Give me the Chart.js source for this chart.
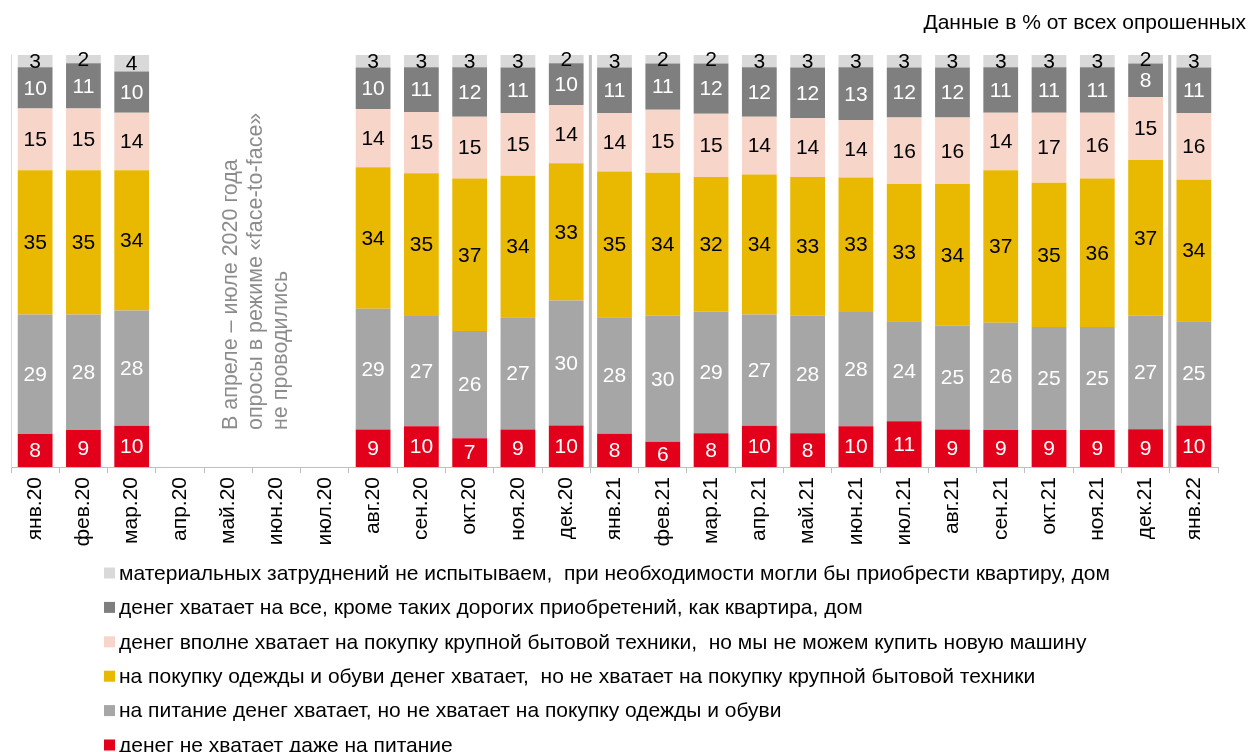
<!DOCTYPE html>
<html>
<head>
<meta charset="utf-8">
<script src="https://cdn.jsdelivr.net/npm/chart.js@4.4.1/dist/chart.umd.min.js"></script>
<style>
  html, body { margin: 0; padding: 0; background: #fff; }
  #wrap { width: 1251px; height: 752px; position: relative; }
</style>
</head>
<body>
<div id="wrap"><canvas id="c" width="1251" height="752"></canvas></div>
<script>
const categories = ['янв.20','фев.20','мар.20','апр.20','май.20','июн.20','июл.20','авг.20','сен.20','окт.20','ноя.20','дек.20',
  'янв.21','фев.21','мар.21','апр.21','май.21','июн.21','июл.21','авг.21','сен.21','окт.21','ноя.21','дек.21','янв.22'];
const N = null;
const noMoneyForFood   = [8, 9, 10, N, N, N, N, 9, 10, 7, 9, 10, 8, 6, 8, 10, 8, 10, 11, 9, 9, 9, 9, 9, 10];
const foodOnly         = [29, 28, 28, N, N, N, N, 29, 27, 26, 27, 30, 28, 30, 29, 27, 28, 28, 24, 25, 26, 25, 25, 27, 25];
const clothesOnly      = [35, 35, 34, N, N, N, N, 34, 35, 37, 34, 33, 35, 34, 32, 34, 33, 33, 33, 34, 37, 35, 36, 37, 34];
const appliancesOnly   = [15, 15, 14, N, N, N, N, 14, 15, 15, 15, 14, 14, 15, 15, 14, 14, 14, 16, 16, 14, 17, 16, 15, 16];
const allButHouse      = [10, 11, 10, N, N, N, N, 10, 11, 12, 11, 10, 11, 11, 12, 12, 12, 13, 12, 12, 11, 11, 11, 8, 11];
const noHardship       = [3, 2, 4, N, N, N, N, 3, 3, 3, 3, 2, 3, 2, 2, 3, 3, 3, 3, 3, 3, 3, 3, 2, 3];
const seriesLabels = [
  'денег не хватает даже на питание',
  'на питание денег хватает, но не хватает на покупку одежды и обуви',
  'на покупку одежды и обуви денег хватает,  но не хватает на покупку крупной бытовой техники',
  'денег вполне хватает на покупку крупной бытовой техники,  но мы не можем купить новую машину',
  'денег хватает на все, кроме таких дорогих приобретений, как квартира, дом',
  'материальных затруднений не испытываем,  при необходимости могли бы приобрести квартиру, дом'
];
const separatorsAfter = ['дек.20', 'дек.21'];
const noteLines = ['В апреле – июле 2020 года', 'опросы в режиме «face-to-face»', 'не проводились'];
const subtitle = 'Данные в % от всех опрошенных';

const rawSeries = [noMoneyForFood, foodOnly, clothesOnly, appliancesOnly, allButHouse, noHardship];
const colors = ['#e2001a', '#a6a6a6', '#e9b800', '#f7d5c8', '#7f7f7f', '#d9d9d9'];
const labelColors = ['#ffffff', '#ffffff', '#000000', '#000000', '#ffffff', '#000000'];

// 100% stacked: each column scaled to its total, labels show raw values
const totals = categories.map((_, i) => {
  let s = 0, any = false;
  rawSeries.forEach(a => { if (a[i] != null) { s += a[i]; any = true; } });
  return any ? s : null;
});

const FONT = "'Liberation Sans', Arial, sans-serif";

const datasets = rawSeries.map((arr, k) => ({
  label: seriesLabels[k],
  data: arr.map((v, i) => v == null ? null : v / totals[i] * 100),
  raw: arr,
  backgroundColor: colors[k],
  borderWidth: 0,
  categoryPercentage: 1.0,
  barPercentage: 0.72
}));

const extras = {
  id: 'extras',
  beforeDatasetsDraw(chart) {
    const ctx = chart.ctx, x = chart.scales.x, area = chart.chartArea;
    ctx.save();
    ctx.strokeStyle = '#bfbfbf';
    ctx.lineWidth = 3;
    separatorsAfter.forEach(lab => {
      const i = categories.indexOf(lab);
      const px = (x.getPixelForValue(i) + x.getPixelForValue(i + 1)) / 2;
      ctx.beginPath();
      ctx.moveTo(px, area.top);
      ctx.lineTo(px, area.bottom);
      ctx.stroke();
    });
    ctx.restore();
  },
  afterDatasetsDraw(chart) {
    const ctx = chart.ctx;
    ctx.save();
    ctx.font = '21px ' + FONT;
    ctx.textAlign = 'center';
    ctx.textBaseline = 'middle';
    chart.data.datasets.forEach((ds, k) => {
      const meta = chart.getDatasetMeta(k);
      meta.data.forEach((el, i) => {
        const v = ds.raw[i];
        if (v == null) return;
        ctx.fillStyle = labelColors[k];
        ctx.fillText(String(v), el.x, (el.y + el.base) / 2 + 1);
      });
    });
    // rotated note
    const x = chart.scales.x, area = chart.chartArea;
    const mid = (x.getPixelForValue(categories.indexOf('май.20')) + x.getPixelForValue(categories.indexOf('июн.20'))) / 2;
    ctx.fillStyle = '#8c8c8c';
    ctx.font = '21.5px ' + FONT;
    ctx.textAlign = 'left';
    ctx.textBaseline = 'middle';
    noteLines.forEach((t, j) => {
      ctx.save();
      ctx.translate(mid - 21 + j * 25, area.bottom - 37);
      ctx.rotate(-Math.PI / 2);
      ctx.fillText(t, 0, 0);
      ctx.restore();
    });
    // subtitle
    ctx.fillStyle = '#000';
    ctx.font = '21px ' + FONT;
    ctx.textAlign = 'right';
    ctx.textBaseline = 'middle';
    ctx.fillText(subtitle, 1246, 23);
    // legend (reversed order)
    ctx.font = '21px ' + FONT;
    ctx.textAlign = 'left';
    for (let k = 5; k >= 0; k--) {
      const row = 5 - k;
      const cy = 573 + row * 34.4;
      ctx.fillStyle = colors[k];
      ctx.fillRect(104, cy - 5.5, 11, 11);
      ctx.fillStyle = '#000';
      ctx.fillText(seriesLabels[k], 119, cy + 1);
    }
    ctx.restore();
  }
};

new Chart(document.getElementById('c'), {
  type: 'bar',
  data: { labels: categories, datasets },
  options: {
    responsive: false,
    animation: false,
    devicePixelRatio: 1,
    layout: { padding: { top: 55, left: 11, right: 33, bottom: 0 } },
    plugins: { legend: { display: false }, tooltip: { enabled: false } },
    scales: {
      x: {
        stacked: true,
        offset: true,
        grid: { display: true, drawOnChartArea: false, offset: true, tickLength: 6, color: '#bfbfbf' },
        border: { display: true, color: '#bfbfbf', width: 1 },
        ticks: { minRotation: 90, maxRotation: 90, autoSkip: false, color: '#000', font: { size: 21, family: FONT }, padding: 4 },
        afterFit(s) { s.height = 285; }
      },
      y: {
        stacked: true,
        min: 0, max: 100,
        ticks: { display: false },
        grid: { display: false },
        border: { display: true, color: '#d9d9d9', width: 1 },
        afterFit(s) { s.width = 0; }
      }
    }
  },
  plugins: [extras]
});
</script>
</body>
</html>
